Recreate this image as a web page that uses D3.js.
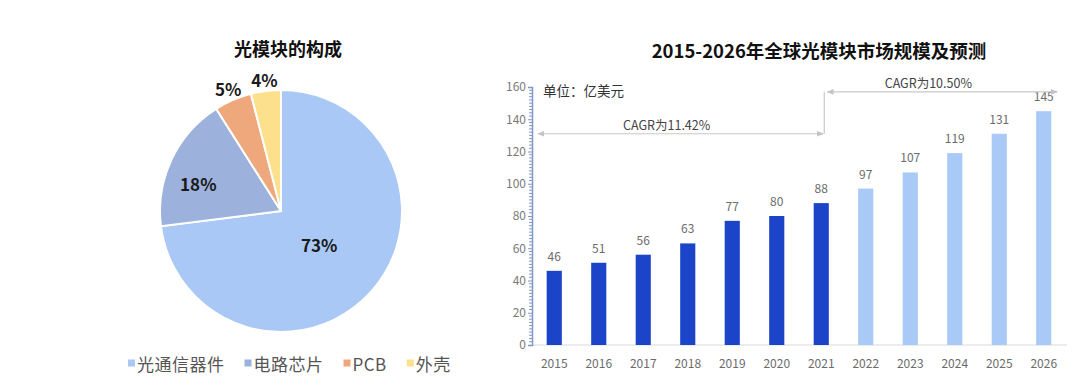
<!DOCTYPE html>
<html>
<head>
<meta charset="utf-8">
<script src="https://cdn.jsdelivr.net/npm/d3@7"></script>
<style>
  body { margin: 0; background: #fff; }
  svg { display: block; font-family: "Noto Sans CJK SC", "Noto Sans", sans-serif; }
</style>
</head>
<body>
<svg id="chart" width="1080" height="386"></svg>
<script>
// 饼图数据
var pieCats = ["光通信器件", "电路芯片", "PCB", "外壳"];
var pieVals = [73, 18, 5, 4];
var pieColors = ["#a9c8f6", "#9cb1dc", "#efa87c", "#fde08c"];

// 柱状图数据
var years = ["2015", "2016", "2017", "2018", "2019", "2020", "2021", "2022", "2023", "2024", "2025", "2026"];
var market = [46, 51, 56, 63, 77, 80, 88, 97, 107, 119, 131, 145];
var forecastFrom = "2022";
var yTicks = [0, 20, 40, 60, 80, 100, 120, 140, 160];
var cagrLabels = ["CAGR为11.42%", "CAGR为10.50%"];
var cagrTo = ["2021", "2026"];
var cagrLevel = [131, 157];

var svg = d3.select("#chart");

// ---------- 图 1 饼图 ----------
var cx = 281, cy = 211, r = 121;
svg.append("text").attr("x", 288).attr("y", 48)
  .style("text-anchor", "middle").style("dominant-baseline", "central")
  .style("font-size", "18px").style("font-weight", "bold").style("fill", "#111")
  .text("光模块的构成");

var pie = d3.pie().sort(null).value(function(d) { return d; });
var arcs = pie(pieVals);
var arc = d3.arc().innerRadius(0).outerRadius(r);
var gp = svg.append("g").attr("transform", "translate(" + cx + "," + cy + ")");
gp.selectAll("path").data(arcs).enter().append("path")
  .attr("d", arc)
  .style("fill", function(d, i) { return pieColors[i]; })
  .style("stroke", "#fff").style("stroke-width", 2);

// 标签位置：大块在内，小块在外
function labelPos(d) {
  var a = (d.startAngle + d.endAngle) / 2;
  var lr;
  if (d.value > 50) lr = r * 0.42;
  else if (d.value > 10) { lr = r * 0.72; a -= 0.12; }
  else lr = r + 12;
  return [Math.sin(a) * lr, -Math.cos(a) * lr];
}
gp.selectAll("text.pl").data(arcs).enter().append("text")
  .attr("class", "pl")
  .attr("transform", function(d) {
    var p = labelPos(d);
    return "translate(" + p[0] + "," + p[1] + ")";
  })
  .style("text-anchor", "middle").style("dominant-baseline", "central")
  .style("font-size", "17px").style("font-weight", "bold").style("fill", "#1a1a1a")
  .text(function(d) { return d.value + "%"; });

// 图例
var lg = svg.append("g").attr("transform", "translate(128,363)");
var lx = 0;
pieCats.forEach(function(c, i) {
  lg.append("rect").attr("x", lx).attr("y", -3.5).attr("width", 7).attr("height", 7)
    .style("fill", pieColors[i]);
  var t = lg.append("text").attr("x", lx + 9).attr("y", 0)
    .style("dominant-baseline", "central").style("font-size", "17px")
    .style("letter-spacing", "0.5px").style("fill", "#555")
    .text(c);
  lx += 9 + t.node().getComputedTextLength() + 20;
});

// ---------- 图 2 柱状图 ----------
svg.append("text").attr("x", 819).attr("y", 50)
  .style("text-anchor", "middle").style("dominant-baseline", "central")
  .style("font-size", "18.5px").style("font-weight", "bold").style("fill", "#111")
  .text("2015-2026年全球光模块市场规模及预测");

var x = d3.scaleBand().domain(years).range([532, 1066]).paddingInner(0.66).paddingOuter(0.33);
var y = d3.scaleLinear().domain([0, 160]).range([345, 87]);

// x 轴线
svg.append("line").attr("x1", 532).attr("x2", 1067).attr("y1", y(0)).attr("y2", y(0))
  .style("stroke", "#d9d9d9").style("stroke-width", 1.2);

// y 轴（含小刻度）
var yAxis = d3.axisLeft(y).tickValues(yTicks).tickSize(4).tickPadding(2);
var gy = svg.append("g").attr("transform", "translate(532,0)").call(yAxis);
gy.select(".domain").style("stroke", "#7d99c4").style("stroke-width", 1.5);
gy.selectAll(".tick line").style("stroke", "#7d99c4");
gy.selectAll(".tick text").style("font-size", "12px").style("fill", "#7a7a7a")
  .style("font-family", "'Noto Sans CJK SC', sans-serif");
var minor = d3.range(0, 161, 2).filter(function(v) { return yTicks.indexOf(v) < 0; });
gy.selectAll("line.minor").data(minor).enter().append("line")
  .attr("class", "minor").attr("x1", -3).attr("x2", 0)
  .attr("y1", function(d) { return y(d); }).attr("y2", function(d) { return y(d); })
  .style("stroke", "#7d99c4").style("stroke-width", 1);

// 柱子
var bars = years.map(function(yr, i) { return { year: yr, value: market[i] }; });
svg.selectAll("rect.bar").data(bars).enter().append("rect")
  .attr("class", "bar")
  .attr("x", function(d) { return x(d.year); })
  .attr("width", x.bandwidth())
  .attr("y", function(d) { return y(d.value); })
  .attr("height", function(d) { return y(0) - y(d.value); })
  .style("fill", function(d) { return d.year >= forecastFrom ? "#a9c9f6" : "#1c44c9"; });

svg.selectAll("text.val").data(bars).enter().append("text")
  .attr("class", "val")
  .attr("x", function(d) { return x(d.year) + x.bandwidth() / 2; })
  .attr("y", function(d) { return y(d.value) - 10; })
  .style("text-anchor", "middle").style("font-size", "12px").style("fill", "#6b6b6b")
  .text(function(d) { return d.value; });

svg.selectAll("text.yr").data(years).enter().append("text")
  .attr("class", "yr")
  .attr("x", function(d) { return x(d) + x.bandwidth() / 2; })
  .attr("y", 362)
  .style("text-anchor", "middle").style("dominant-baseline", "central")
  .style("font-size", "12px").style("fill", "#6b6b6b")
  .text(function(d) { return d; });

// 单位
svg.append("text").attr("x", 543).attr("y", 90)
  .style("dominant-baseline", "central").style("font-size", "13.5px").style("fill", "#333")
  .text("单位：亿美元");

// CAGR 标注
var defs = svg.append("defs");
["s", "e"].forEach(function(k) {
  defs.append("marker").attr("id", "arr-" + k)
    .attr("viewBox", "0 0 10 10").attr("refX", k === "e" ? 9 : 1).attr("refY", 5)
    .attr("markerWidth", 7).attr("markerHeight", 7).attr("markerUnits", "userSpaceOnUse")
    .attr("orient", "auto")
    .append("path")
    .attr("d", k === "e" ? "M0,1 L10,5 L0,9 Z" : "M10,1 L0,5 L10,9 Z")
    .style("fill", "#c4c4c4");
});
var splitX = x(cagrTo[0]) + x.bandwidth() * 0.7;
var cagr = cagrLabels.map(function(l, i) {
  var x1 = i === 0 ? 532 + 6 : splitX + 3;
  var x2 = i === 0 ? splitX - 1 : x(cagrTo[i]) + x.bandwidth() + 6;
  return { label: l, x1: x1, x2: x2, yy: y(cagrLevel[i]) };
});
svg.append("line").attr("x1", splitX).attr("x2", splitX)
  .attr("y1", cagr[1].yy).attr("y2", cagr[0].yy)
  .style("stroke", "#c8c8c8").style("stroke-width", 1.2);
cagr.forEach(function(c) {
  svg.append("line").attr("x1", c.x1).attr("x2", c.x2).attr("y1", c.yy).attr("y2", c.yy)
    .style("stroke", "#c8c8c8").style("stroke-width", 1.2)
    .attr("marker-start", "url(#arr-s)").attr("marker-end", "url(#arr-e)");
  svg.append("text").attr("x", (c.x1 + c.x2) / 2 - 14).attr("y", c.yy - 9)
    .style("text-anchor", "middle").style("dominant-baseline", "central")
    .style("font-size", "12.5px").style("fill", "#444")
    .text(c.label);
});
</script>
</body>
</html>
